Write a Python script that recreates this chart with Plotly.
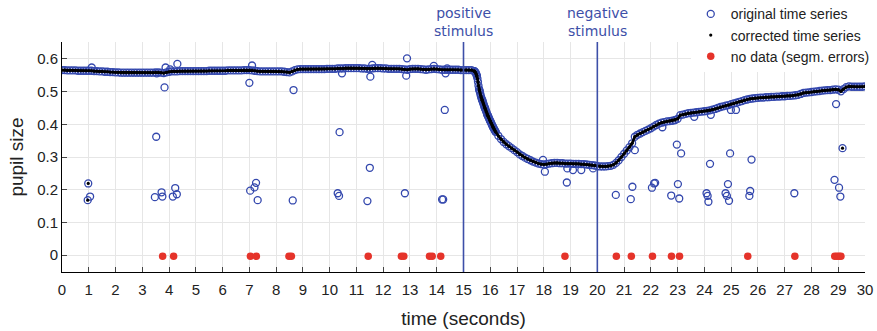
import numpy as np
import plotly.graph_objects as go

# ---- data -----------------------------------------------------------------
# corrected pupil size, sampled every 0.1 s from 0.0 to 30.0 s
t_start, t_step = 0.0, 0.1
corrected = [
    0.566, 0.566, 0.565, 0.565, 0.565, 0.565, 0.564, 0.564, 0.564, 0.564,
    0.564, 0.564, 0.563, 0.563, 0.562, 0.562, 0.561, 0.561, 0.560, 0.560,
    0.559, 0.559, 0.558, 0.558, 0.558, 0.558, 0.558, 0.558, 0.558, 0.558,
    0.558, 0.558, 0.558, 0.558, 0.558, 0.559, 0.559, 0.558, 0.557, 0.559,
    0.561, 0.562, 0.562, 0.562, 0.563, 0.563, 0.563, 0.563, 0.563, 0.563,
    0.563, 0.563, 0.563, 0.563, 0.563, 0.564, 0.564, 0.564, 0.564, 0.564,
    0.564, 0.564, 0.565, 0.565, 0.565, 0.565, 0.565, 0.565, 0.566, 0.566,
    0.566, 0.565, 0.564, 0.563, 0.562, 0.562, 0.562, 0.562, 0.562, 0.562,
    0.562, 0.562, 0.562, 0.561, 0.560, 0.559, 0.562, 0.566, 0.568, 0.569,
    0.569, 0.569, 0.569, 0.569, 0.569, 0.569, 0.569, 0.569, 0.569, 0.570,
    0.570, 0.570, 0.570, 0.571, 0.571, 0.571, 0.572, 0.572, 0.572, 0.572,
    0.572, 0.572, 0.571, 0.571, 0.570, 0.570, 0.571, 0.572, 0.572, 0.572,
    0.571, 0.571, 0.570, 0.570, 0.570, 0.570, 0.570, 0.569, 0.568, 0.567,
    0.569, 0.570, 0.570, 0.570, 0.569, 0.568, 0.567, 0.568, 0.569, 0.570,
    0.569, 0.568, 0.567, 0.567, 0.567, 0.567, 0.567, 0.567, 0.567, 0.566,
    0.566, 0.566, 0.566, 0.566, 0.563, 0.548, 0.503, 0.474, 0.450, 0.428,
    0.410, 0.392, 0.377, 0.365, 0.355, 0.346, 0.339, 0.333, 0.327, 0.321,
    0.315, 0.308, 0.303, 0.298, 0.294, 0.290, 0.286, 0.283, 0.280, 0.278,
    0.277, 0.278, 0.280, 0.281, 0.282, 0.282, 0.281, 0.281, 0.280, 0.280,
    0.280, 0.279, 0.279, 0.279, 0.278, 0.278, 0.277, 0.276, 0.275, 0.274,
    0.272, 0.271, 0.271, 0.271, 0.272, 0.273, 0.276, 0.282, 0.290, 0.300,
    0.310, 0.320, 0.330, 0.342, 0.362, 0.368, 0.372, 0.376, 0.380, 0.384,
    0.388, 0.393, 0.398, 0.402, 0.405, 0.407, 0.409, 0.410, 0.411, 0.413,
    0.417, 0.428, 0.430, 0.432, 0.434, 0.435, 0.436, 0.437, 0.438, 0.439,
    0.440, 0.441, 0.443, 0.445, 0.447, 0.450, 0.453, 0.455, 0.457, 0.459,
    0.462, 0.464, 0.466, 0.469, 0.471, 0.474, 0.476, 0.478, 0.479, 0.480,
    0.481, 0.482, 0.482, 0.483, 0.483, 0.484, 0.484, 0.485, 0.485, 0.486,
    0.486, 0.487, 0.487, 0.488, 0.489, 0.490, 0.493, 0.496, 0.497, 0.498,
    0.499, 0.500, 0.501, 0.502, 0.503, 0.504, 0.505, 0.505, 0.506, 0.507,
    0.506, 0.501, 0.508, 0.514, 0.516, 0.515, 0.515, 0.515, 0.515, 0.515,
    0.516,
]

# the fast constriction after the positive stimulus, sampled every 0.02 s
fine_start, fine_step = 15.40, 0.02
corrected_fine = [
    0.563, 0.562, 0.560, 0.557, 0.553, 0.548, 0.540, 0.530, 0.518, 0.508,
    0.503, 0.496, 0.489, 0.483, 0.478, 0.474, 0.469, 0.464, 0.459, 0.454,
    0.450, 0.446, 0.441, 0.437, 0.432, 0.428, 0.424, 0.421, 0.417, 0.413,
    0.410, 0.406, 0.403, 0.399, 0.396, 0.392, 0.389, 0.386, 0.383, 0.380,
    0.377,
]

# samples of the original series that the correction left in place
kept_t = [0.96, 0.98, 29.16]
kept_v = [0.168, 0.219, 0.327]

# outlying samples of the original series (segmentation glitches)
outlier_t = [
    0.96, 0.98, 1.05, 1.11, 3.47, 3.52, 3.54, 3.72, 3.75, 3.83, 3.87, 4.04,
    4.14, 4.23, 4.29, 4.31, 7.00, 7.03, 7.10, 7.19, 7.25, 7.31, 8.62, 8.65,
    10.30, 10.35, 10.37, 10.46, 11.41, 11.50, 11.52, 11.59, 12.81, 12.86, 12.89,
    13.89, 14.20, 14.24, 14.30, 14.33, 14.39, 17.97, 18.04, 18.86, 18.88, 19.09,
    19.40, 19.84, 20.69, 21.25, 21.31, 21.40, 22.04, 22.12, 22.16, 22.43, 22.76,
    22.90, 22.97, 23.01, 23.06, 23.13, 23.62, 24.08, 24.12, 24.15, 24.21, 24.24,
    24.79, 24.84, 24.88, 24.92, 24.96, 24.99, 25.18, 25.68, 25.71, 25.76, 27.36,
    28.86, 28.92, 29.03, 29.08, 29.16,
]
outlier_v = [
    0.168, 0.219, 0.179, 0.574, 0.177, 0.362, 0.556, 0.192, 0.179, 0.513, 0.574, 0.568,
    0.179, 0.205, 0.186, 0.585, 0.527, 0.197, 0.580, 0.207, 0.221, 0.168, 0.167, 0.505,
    0.189, 0.181, 0.376, 0.556, 0.165, 0.267, 0.546, 0.582, 0.189, 0.549, 0.602,
    0.579, 0.170, 0.170, 0.444, 0.556, 0.571, 0.291, 0.255, 0.222, 0.265, 0.260,
    0.260, 0.265, 0.184, 0.171, 0.209, 0.321, 0.206, 0.219, 0.221, 0.391, 0.182,
    0.413, 0.338, 0.217, 0.173, 0.311, 0.423, 0.189, 0.181, 0.163, 0.279, 0.429,
    0.189, 0.181, 0.217, 0.166, 0.311, 0.444, 0.444, 0.181, 0.196, 0.292, 0.189,
    0.230, 0.462, 0.206, 0.179, 0.327,
]

# moments with no measurement at all (segmentation errors)
nodata_t = [
    3.76, 4.17, 7.04, 7.26, 8.48, 8.57, 11.44, 12.68, 12.77, 13.73, 13.83, 14.15,
    18.79, 20.71, 21.27, 22.06, 22.77, 23.07, 25.62, 27.38, 28.87, 28.95, 29.03, 29.10,
]
nodata_level = -0.004

stimuli = [(15, "positive<br>stimulus"), (20, "negative<br>stimulus")]

x_ticks = list(range(0, 31))
y_ticks = [0, 0.1, 0.2, 0.3, 0.4, 0.5, 0.6]
y_tick_text = ["0", "0.1", "0.2", "0.3", "0.4", "0.5", "0.6"]

# ---- assemble series ------------------------------------------------------
t_main = np.round(t_start + t_step * np.arange(len(corrected)), 2)
t_fine = np.round(fine_start + fine_step * np.arange(len(corrected_fine)), 2)

series_t = np.concatenate([t_main, t_fine])
series_v = np.concatenate([corrected, corrected_fine])
order = np.argsort(series_t, kind="stable")
series_t, series_v = series_t[order], series_v[order]

orig_t = np.concatenate([series_t, outlier_t])
orig_v = np.concatenate([series_v, outlier_v])
corr_t = np.concatenate([series_t, kept_t])
corr_v = np.concatenate([series_v, kept_v])

BLUE = "#3347ad"
LINE_BLUE = "#3d4fa8"
RED = "#e5332a"
TXT = "#222222"
FONT = "Liberation Sans, Arial, sans-serif"

fig = go.Figure()
fig.add_trace(go.Scatter(
    x=orig_t, y=orig_v, mode="markers", name="original time series",
    marker=dict(symbol="circle-open", size=7, color=BLUE, line=dict(width=1.3, color=BLUE)),
))
# dense corrected samples read as a continuous dark trace
fig.add_trace(go.Scatter(
    x=series_t, y=series_v, mode="lines", showlegend=False, hoverinfo="skip",
    line=dict(color="black", width=2.6),
))
fig.add_trace(go.Scatter(
    x=corr_t, y=corr_v, mode="markers", name="corrected time series",
    marker=dict(symbol="circle", size=3.2, color="black", line=dict(width=0)),
))
fig.add_trace(go.Scatter(
    x=nodata_t, y=[nodata_level] * len(nodata_t), mode="markers",
    name="no data (segm. errors)",
    marker=dict(symbol="circle", size=7.5, color=RED, line=dict(width=0)),
))

for xs, label in stimuli:
    fig.add_shape(type="line", xref="x", yref="paper", x0=xs, x1=xs, y0=0, y1=1,
                  line=dict(color=LINE_BLUE, width=1.6), layer="above")
    fig.add_annotation(x=xs, xref="x", y=1, yref="paper", yanchor="bottom", yshift=1,
                       text=label, showarrow=False, align="center",
                       font=dict(family="DejaVu Sans, sans-serif", size=14, color=LINE_BLUE))

fig.update_layout(
    width=877, height=331,
    margin=dict(l=62, r=12, t=42, b=59, autoexpand=False),
    paper_bgcolor="white", plot_bgcolor="white",
    font=dict(family=FONT, size=15, color=TXT),
    showlegend=True,
    legend=dict(
        x=0.783, y=1.19, xanchor="left", yanchor="top",
        bgcolor="white", borderwidth=0, tracegroupgap=0,
        font=dict(family=FONT, size=14, color=TXT),
        itemwidth=30,
    ),
)
fig.update_xaxes(
    range=[0, 30], tickmode="array", tickvals=x_ticks,
    showgrid=True, gridcolor="#e6e6e6", gridwidth=1, zeroline=False,
    showline=True, linecolor="black", linewidth=1,
    ticks="inside", ticklen=5, tickcolor="#444", tickwidth=1,
    tickfont=dict(size=15, color=TXT), ticklabelstandoff=4,
    title=dict(text="time (seconds)", font=dict(size=19, color=TXT), standoff=14),
)
fig.update_yaxes(
    range=[-0.052, 0.652], tickmode="array", tickvals=y_ticks, ticktext=y_tick_text,
    showgrid=True, gridcolor="#e6e6e6", gridwidth=1, zeroline=False,
    showline=True, linecolor="black", linewidth=1,
    ticks="inside", ticklen=5, tickcolor="#444", tickwidth=1,
    tickfont=dict(size=15, color=TXT),
    title=dict(text="pupil size", font=dict(size=19, color=TXT), standoff=8),
)

fig.write_html("out.html")
